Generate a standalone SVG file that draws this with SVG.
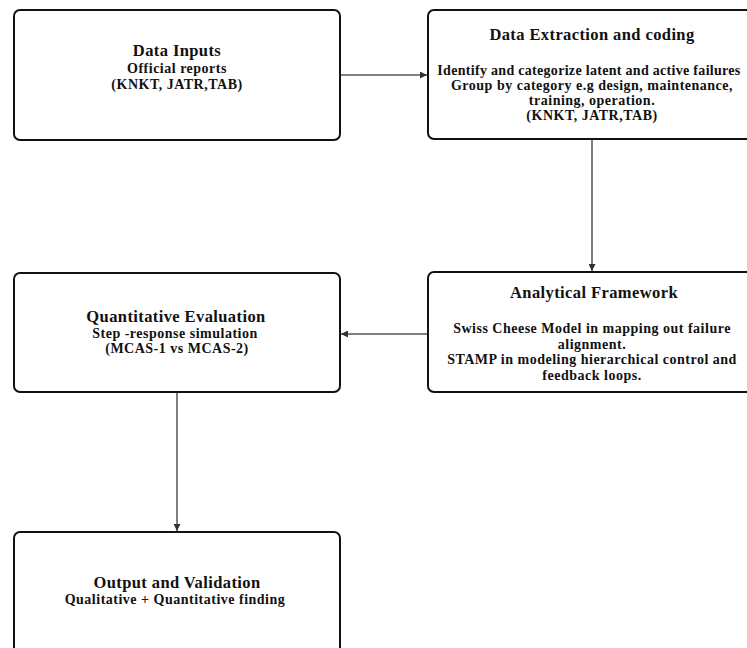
<svg xmlns="http://www.w3.org/2000/svg" width="747" height="648" viewBox="0 0 747 648">
  <style>
    .box { fill: #ffffff; stroke: #111111; stroke-width: 2; }
    .title { font-family: "Liberation Serif", "Times New Roman", serif; font-weight: bold; font-size: 16.5px; letter-spacing: 0.4px; fill: #111111; text-anchor: middle; }
    .body { font-family: "Liberation Serif", "Times New Roman", serif; font-weight: bold; font-size: 14px; letter-spacing: 0.5px; fill: #111111; text-anchor: middle; }
    .tight { letter-spacing: 0.3px; }
    .conn { fill: none; stroke: #555555; stroke-width: 1.5; }
  </style>
  <defs>
    <marker id="arrow" viewBox="0 0 10 10" refX="10" refY="5" markerWidth="7" markerHeight="7" markerUnits="userSpaceOnUse" orient="auto">
      <path d="M0,0 L10,5 L0,10 z" fill="#333333"/>
    </marker>
  </defs>
  <rect width="747" height="648" fill="#ffffff"/>

  <g id="connectors">
    <line class="conn" x1="341" y1="75" x2="427" y2="75" marker-end="url(#arrow)"/>
    <line class="conn" x1="592" y1="140" x2="592" y2="271" marker-end="url(#arrow)"/>
    <line class="conn" x1="428" y1="334" x2="341" y2="334" marker-end="url(#arrow)"/>
    <line class="conn" x1="177" y1="392" x2="177" y2="531" marker-end="url(#arrow)"/>
  </g>

  <g id="data-inputs">
    <rect class="box" x="14" y="10" width="326" height="130" rx="6"/>
    <text class="title" x="177" y="56">Data Inputs</text>
    <text class="body" x="177" y="72.5">Official reports</text>
    <text class="body" x="177" y="89">(KNKT, JATR,TAB)</text>
  </g>

  <g id="data-extraction">
    <rect class="box" x="428" y="10" width="330" height="129" rx="6"/>
    <text class="title" x="592" y="40">Data Extraction and coding</text>
    <text class="body tight" x="589" y="75">Identify and categorize latent and active failures</text>
    <text class="body" x="592" y="90">Group by category e.g design, maintenance,</text>
    <text class="body" x="592" y="105">training, operation.</text>
    <text class="body" x="592" y="119.5">(KNKT, JATR,TAB)</text>
  </g>

  <g id="analytical-framework">
    <rect class="box" x="428" y="272" width="330" height="120" rx="6"/>
    <text class="title" x="594" y="298">Analytical Framework</text>
    <text class="body" x="592" y="333">Swiss Cheese Model in mapping out failure</text>
    <text class="body" x="592" y="348.5">alignment.</text>
    <text class="body" x="592" y="364">STAMP in modeling hierarchical control and</text>
    <text class="body" x="592" y="379.5">feedback loops.</text>
  </g>

  <g id="quantitative-evaluation">
    <rect class="box" x="14" y="273" width="326" height="119" rx="6"/>
    <text class="title" x="176" y="322">Quantitative Evaluation</text>
    <text class="body" x="175" y="338">Step -response simulation</text>
    <text class="body" x="177" y="352.5">(MCAS-1 vs MCAS-2)</text>
  </g>

  <g id="output-validation">
    <rect class="box" x="14" y="532" width="326" height="130" rx="6"/>
    <text class="title" x="177" y="588">Output and Validation</text>
    <text class="body" x="175" y="604">Qualitative + Quantitative finding</text>
  </g>
</svg>
